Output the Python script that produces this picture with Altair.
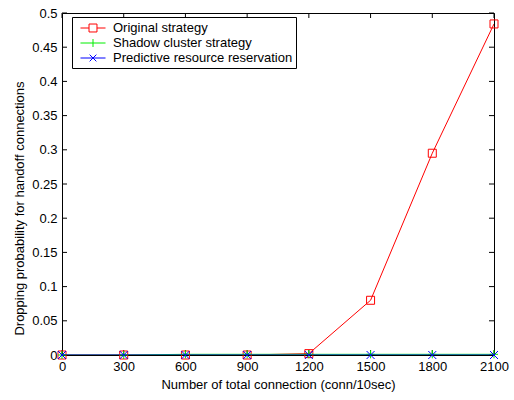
import altair as alt
import pandas as pd

x_vals = [0, 300, 600, 900, 1200, 1500, 1800, 2100]
original = [0.0, 0.0, 0.0, 0.0, 0.002, 0.080, 0.295, 0.484]
shadow = [0.0, 0.0, 0.001, 0.001, 0.001, 0.001, 0.001, 0.001]
predictive = [0.0, 0.0, 0.0, 0.0, 0.0, 0.0, 0.0, 0.0]

series_names = ["Original strategy", "Shadow cluster strategy", "Predictive resource reservation"]
series_colors = ["#ff0000", "#00ee00", "#0000ff"]
x_ticks = [0, 300, 600, 900, 1200, 1500, 1800, 2100]
y_ticks = [0, 0.05, 0.1, 0.15, 0.2, 0.25, 0.3, 0.35, 0.4, 0.45, 0.5]

marker_paths = [
    "M-1,-1H1V1H-1Z",
    "M-1,0H1M0,-1V1",
    "M-1,-1L1,1M-1,1L1,-1",
]
legend_paths = [
    "M-1.67,0H-0.53M0.53,0H1.67M-0.53,-0.53H0.53V0.53H-0.53Z",
    "M-1.67,0H1.67M0,-0.53V0.53",
    "M-1.67,0H1.67M-0.45,-0.45L0.45,0.45M-0.45,0.45L0.45,-0.45",
]

rows = []
for name, vals in zip(series_names, [original, shadow, predictive]):
    for xv, yv in zip(x_vals, vals):
        rows.append({"x": xv, "y": yv, "series": name})
df = pd.DataFrame(rows)

W, H = 432, 342
FONT = "Liberation Sans"

xs = alt.Scale(domain=[0, 2100], nice=False, zero=False)
ys = alt.Scale(domain=[0, 0.5], nice=False)
cs = alt.Scale(domain=series_names, range=series_colors)

XAX = alt.Axis(values=x_ticks, ticks=False, grid=False, domain=False, format="d",
               labelOverlap=False, labelFlush=False,
               title="Number of total connection (conn/10sec)", labelPadding=5,
               titlePadding=5)
YAX = alt.Axis(values=y_ticks, ticks=False, grid=False, domain=False, format="~g",
               labelOverlap=False, labelFlush=False,
               title="Dropping probability for handoff connections", labelPadding=5,
               titlePadding=5, titleY=195)

LEG = alt.Legend(
    title=None, orient="none", legendX=10, legendY=4,
    fillColor="white", strokeColor="black", padding=3,
    symbolSize=225, symbolStrokeWidth=1, labelFontSize=13, labelLimit=400,
    labelFont=FONT, labelColor="black", rowPadding=0,
    labelOffset=12, symbolOffset=10)

base = alt.Chart(df)

layers = []
for i, name in enumerate(series_names):
    sub = base.transform_filter(alt.datum.series == name)
    line = sub.mark_line(strokeWidth=1, clip=True).encode(
        x=alt.X("x:Q", scale=xs, axis=XAX),
        y=alt.Y("y:Q", scale=ys, axis=YAX),
        color=alt.Color("series:N", scale=cs, legend=LEG),
    )
    pts = sub.mark_point(filled=False, strokeWidth=1, size=64, shape=marker_paths[i], opacity=1).encode(
        x=alt.X("x:Q", scale=xs, axis=XAX),
        y=alt.Y("y:Q", scale=ys, axis=YAX),
        color=alt.Color("series:N", scale=cs, legend=LEG),
    )
    layers += [line, pts]

legend_layer = base.transform_filter("false").mark_point(filled=False, strokeWidth=1, opacity=1).encode(
    x=alt.X("x:Q", scale=xs, axis=XAX),
    y=alt.Y("y:Q", scale=ys, axis=YAX),
    color=alt.Color("series:N", scale=cs, legend=LEG),
    shape=alt.Shape("series:N", scale=alt.Scale(domain=series_names, range=legend_paths),
                    legend=LEG),
)

tick_df = pd.DataFrame({"xt": x_ticks})
ytick_df = pd.DataFrame({"yt": y_ticks})
xt_bot = alt.Chart(tick_df).mark_rule(color="black", strokeWidth=1).encode(
    x=alt.X("xt:Q", scale=xs, axis=XAX), y=alt.value(H), y2=alt.value(H - 5))
xt_top = alt.Chart(tick_df).mark_rule(color="black", strokeWidth=1).encode(
    x=alt.X("xt:Q", scale=xs, axis=XAX), y=alt.value(0), y2=alt.value(5))
yt_left = alt.Chart(ytick_df).mark_rule(color="black", strokeWidth=1).encode(
    y=alt.Y("yt:Q", scale=ys, axis=YAX), x=alt.value(0), x2=alt.value(5))
yt_right = alt.Chart(ytick_df).mark_rule(color="black", strokeWidth=1).encode(
    y=alt.Y("yt:Q", scale=ys, axis=YAX), x=alt.value(W), x2=alt.value(W - 5))

chart = alt.layer(xt_bot, xt_top, yt_left, yt_right, *layers, legend_layer).properties(
    width=W, height=H,
    autosize=alt.AutoSizeParams(type="none"),
    padding={"left": 62, "top": 13, "right": 20, "bottom": 45},
    background="white",
).configure_view(
    stroke="black", strokeWidth=1
).configure_axis(
    labelFont=FONT, titleFont=FONT, labelFontSize=13, titleFontSize=13,
    labelColor="black", titleColor="black", titleFontWeight="normal",
)

chart.save("out.html", embed_options={"renderer": "svg", "actions": False})
